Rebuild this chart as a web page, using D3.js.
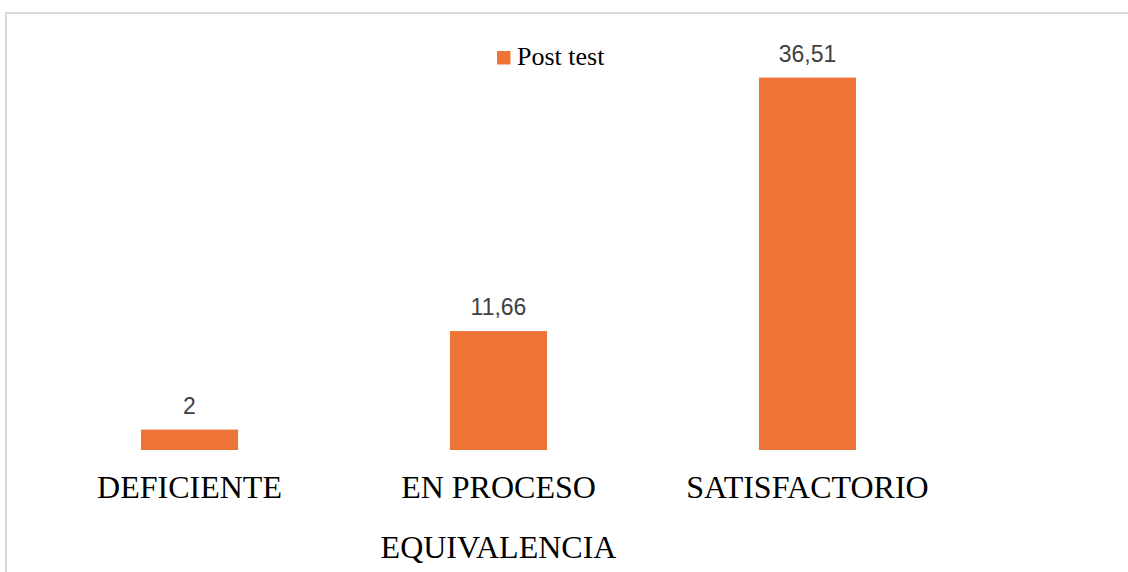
<!DOCTYPE html>
<html>
<head>
<meta charset="utf-8">
<script src="https://cdn.jsdelivr.net/npm/d3@7"></script>
<style>
  html, body { margin: 0; padding: 0; background: #fff; overflow: hidden; }
</style>
</head>
<body>
<div id="chartDiv"></div>
<script>
// data
const categories = ['DEFICIENTE', 'EN PROCESO', 'SATISFACTORIO'];
const postTest = [2, 11.66, 36.51];
const seriesName = 'Post test';
const axisTitle = 'EQUIVALENCIA';

const width = 1128, height = 572;
const barColor = '#ed7436';

const svg = d3.select('#chartDiv')
    .append('svg')
    .attr('width', width)
    .attr('height', height);

// chart frame (runs off the right and bottom edge)
svg.append('rect')
    .attr('x', 6).attr('y', 13)
    .attr('width', width + 20).attr('height', height + 20)
    .attr('fill', '#fff')
    .attr('stroke', '#d9d9d9')
    .attr('stroke-width', 2);

// scales
const x = d3.scaleBand()
    .domain(categories)
    .range([35, 962])
    .paddingInner(0.686)
    .paddingOuter(0.343);

const y = d3.scaleLinear()
    .domain([0, 40])
    .range([450, 42]);

// bars
svg.selectAll('rect.bar')
    .data(postTest)
    .join('rect')
    .attr('class', 'bar')
    .attr('x', (d, i) => x(categories[i]))
    .attr('y', d => y(d))
    .attr('width', x.bandwidth())
    .attr('height', d => y(0) - y(d))
    .attr('fill', barColor);

// value labels
svg.selectAll('text.value')
    .data(postTest)
    .join('text')
    .attr('class', 'value')
    .attr('x', (d, i) => x(categories[i]) + x.bandwidth() / 2)
    .attr('y', d => y(d) - 16)
    .attr('text-anchor', 'middle')
    .style('font-family', '"Liberation Sans", Arial, sans-serif')
    .style('font-size', '23px')
    .style('fill', '#404040')
    .text(d => d3.format('.4~')(d).replace('.', ','));

// category axis (no line, no ticks)
const xAxis = svg.append('g')
    .attr('transform', `translate(0, ${y(0)})`)
    .call(d3.axisBottom(x).tickSize(0).tickPadding(25));
xAxis.select('.domain').remove();
xAxis.selectAll('text')
    .style('font-family', '"Liberation Serif", "Times New Roman", serif')
    .style('font-size', '32px')
    .style('fill', '#000');

// axis title
svg.append('text')
    .attr('x', x(categories[1]) + x.bandwidth() / 2)
    .attr('y', 558)
    .attr('text-anchor', 'middle')
    .style('font-family', '"Liberation Serif", "Times New Roman", serif')
    .style('font-size', '32px')
    .style('fill', '#000')
    .text(axisTitle);

// legend
const legend = svg.append('g').attr('transform', 'translate(497, 51)');
legend.append('rect')
    .attr('width', 13.5).attr('height', 13.5)
    .attr('fill', barColor);
legend.append('text')
    .attr('x', 20).attr('y', 14)
    .style('font-family', '"Liberation Serif", "Times New Roman", serif')
    .style('font-size', '26px')
    .style('fill', '#000')
    .text(seriesName);
</script>
</body>
</html>
